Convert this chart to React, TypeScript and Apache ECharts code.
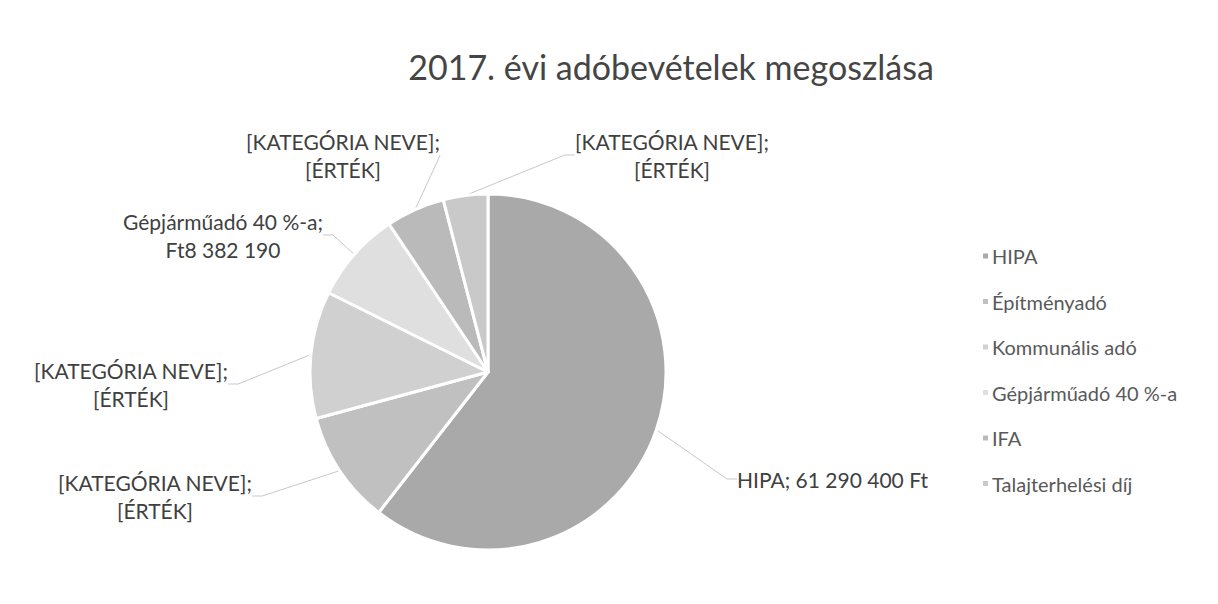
import React, { useEffect, useRef } from "react";
import * as echarts from "echarts";

const TITLE = "2017. évi adóbevételek megoszlása";
const CATEGORIES = ["HIPA", "Építményadó", "Kommunális adó", "Gépjárműadó 40 %-a", "IFA", "Talajterhelési díj"];
const VALUES = [61290400, 10400000, 11700000, 8382190, 5400000, 4100000];
const LABEL_TEXTS = [
  "HIPA; 61 290 400 Ft",
  "[KATEGÓRIA NEVE];\n[ÉRTÉK]",
  "[KATEGÓRIA NEVE];\n[ÉRTÉK]",
  "Gépjárműadó 40 %-a;\nFt8 382 190",
  "[KATEGÓRIA NEVE];\n[ÉRTÉK]",
  "[KATEGÓRIA NEVE];\n[ÉRTÉK]",
];
const COLORS = ["#a9a9a9", "#c0c0c0", "#d0d0d0", "#dfdfdf", "#bababa", "#c9c9c9"];
// label anchor positions (x, y, align) for layout
const LABEL_POS: [number, number, string][] = [
  [737, 479, "left"],
  [155, 496, "center"],
  [131, 384, "center"],
  [223, 235, "center"],
  [343, 155, "center"],
  [672, 155, "center"],
];

export default function App() {
  const ref = useRef<HTMLDivElement>(null);
  useEffect(() => {
    document.body.style.margin = "0";
    const chart = echarts.init(ref.current!, null, { renderer: "svg" });
    const font = "Lato, 'Noto Sans', sans-serif";
    chart.setOption({
      animation: false,
      backgroundColor: "#ffffff",
      title: {
        text: TITLE,
        left: 666,
        top: 44,
        textAlign: "center",
        textStyle: { fontFamily: font, fontSize: 34, fontWeight: "normal", color: "#454545" },
      },
      legend: {
        orient: "vertical",
        left: 976,
        top: 241,
        itemWidth: 7,
        itemHeight: 7,
        itemGap: 25.5,
        icon: "rect",
        data: CATEGORIES,
        textStyle: { fontFamily: font, fontSize: 20, color: "#595959", padding: [0, 0, 0, -2] },
      },
      series: [
        {
          type: "pie",
          center: [488, 372],
          radius: 178,
          startAngle: 90,
          clockwise: true,
          itemStyle: { borderColor: "#ffffff", borderWidth: 3 },
          label: {
            show: true,
            position: "outside",
            fontFamily: font,
            fontSize: 21,
            lineHeight: 28,
            color: "#404040",
            formatter: (p: any) => LABEL_TEXTS[p.dataIndex],
          },
          labelLine: { show: true, lineStyle: { color: "#c8c8c8", width: 1 }, length: 10, length2: 10 },
          labelLayout: (p: any) => {
            const pos = LABEL_POS[p.dataIndex];
            return { x: pos[0], y: pos[1], align: pos[2], verticalAlign: "middle", hideOverlap: false };
          },
          data: CATEGORIES.map((name, i) => ({ name, value: VALUES[i], itemStyle: { color: COLORS[i] } })),
        },
      ],
    });
    return () => chart.dispose();
  }, []);
  return <div ref={ref} style={{ width: 1218, height: 604 }} />;
}
